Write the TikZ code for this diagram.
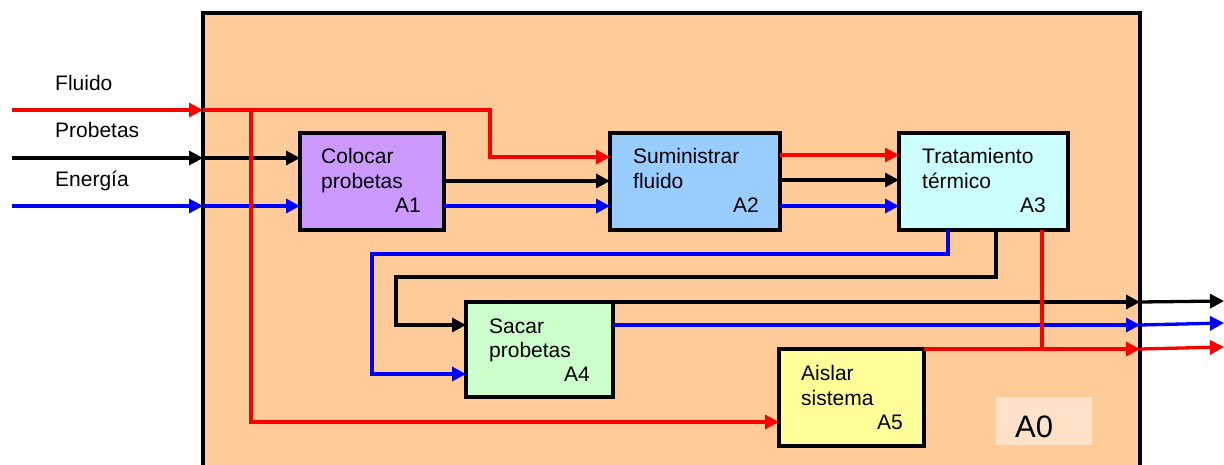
\documentclass[tikz,border=0pt]{standalone}
\usepackage{fontspec}
\setmainfont{Liberation Sans}
\usetikzlibrary{arrows.meta}
\definecolor{ctxfill}{HTML}{FFCC99}
\definecolor{tagfill}{HTML}{FFE1C8}
\definecolor{fillA}{HTML}{CC99FF}
\definecolor{fillB}{HTML}{99CCFF}
\definecolor{fillC}{HTML}{CCFFFF}
\definecolor{fillD}{HTML}{CCFFCC}
\definecolor{fillE}{HTML}{FFFF99}
\definecolor{flowred}{HTML}{FF0000}
\definecolor{flowblue}{HTML}{0000FF}
\tikzset{
  actbox/.style={draw=black, line width=3.3pt, rectangle, inner sep=0pt, outer sep=0pt, anchor=north west},
  flow/.style={line width=3.3pt, -{Triangle[length=14pt,width=14pt]}},
  wire/.style={line width=3.3pt},
  lbl/.style={font=\fontsize{21}{25}\selectfont, inner sep=0pt, anchor=base west},
  code/.style={font=\fontsize{21}{25}\selectfont, inner sep=0pt, anchor=base east},
}
\begin{document}
\begin{tikzpicture}[x=1pt,y=-1pt]
\useasboundingbox (0,0) rectangle (1224,465);

% context box A0
\node[actbox, fill=ctxfill, minimum width=937pt, minimum height=480pt] (a0) at (203,13) {};
\node[fill=tagfill, inner sep=0pt, minimum width=96pt, minimum height=48pt, anchor=north west] (tag) at (996,397) {};
\node[font=\fontsize{31}{36}\selectfont, inner sep=0pt, anchor=base west] (tagtxt) at (1015,437) {A0};

% activity boxes
\node[actbox, fill=fillA, minimum width=144pt, minimum height=97pt] (a1) at (300,133) {};
\node[actbox, fill=fillB, minimum width=170pt, minimum height=97pt] (a2) at (610,133) {};
\node[actbox, fill=fillC, minimum width=169pt, minimum height=97pt] (a3) at (899,133) {};
\node[actbox, fill=fillD, minimum width=147pt, minimum height=95pt] (a4) at (466,302) {};
\node[actbox, fill=fillE, minimum width=145pt, minimum height=97pt] (a5) at (779,349) {};

% box texts
\node[lbl] (t1a) at (321,164) {Colocar};
\node[lbl] (t1b) at (321,189) {probetas};
\node[code] (t1c) at (421,213) {A1};
\node[lbl] (t2a) at (633,164) {Suministrar};
\node[lbl] (t2b) at (633,189) {fluido};
\node[code] (t2c) at (759,213) {A2};
\node[lbl] (t3a) at (922,164) {Tratamiento};
\node[lbl] (t3b) at (922,189) {térmico};
\node[code] (t3c) at (1046,213) {A3};
\node[lbl] (t4a) at (489,333) {Sacar};
\node[lbl] (t4b) at (489,357) {probetas};
\node[code] (t4c) at (590,381) {A4};
\node[lbl] (t5a) at (801,380) {Aislar};
\node[lbl] (t5b) at (801,405) {sistema};
\node[code] (t5c) at (903,429) {A5};

% input labels
\node[lbl] (lf) at (55,91) {Fluido};
\node[lbl] (lp) at (55,138) {Probetas};
\node[lbl] (le) at (55,187) {Energía};

% input ends and border points
\coordinate (inF) at (12,110);
\coordinate (inP) at (12,158);
\coordinate (inE) at (12,206);
\coordinate (bF) at (203,110);
\coordinate (bP) at (203,158);
\coordinate (bE) at (203,206);

% output border points and ends
\coordinate (oK) at (1140,302);
\coordinate (oB) at (1140,325);
\coordinate (oR) at (1140,349);
\coordinate (xK) at (1224,301);
\coordinate (xB) at (1224,323);
\coordinate (xR) at (1224,347);

% black flows
\draw[flow] (inP) -- (bP);
\draw[flow] (bP) -- (a1.west |- bP);
\draw[flow] (a1.east |- 0,181) -- (a2.west |- 0,181);
\draw[flow] (a2.east |- 0,180) -- (a3.west |- 0,180);
\draw[flow] (a3.south -| 996,0) -- (996,277) -- (396,277) -- (396,325) -- (a4.west |- 0,325);
\draw[flow] (a4.north east) -- (oK);
\draw[flow] (oK) -- (xK);

% blue flows
\draw[flow, flowblue] (inE) -- (bE);
\draw[flow, flowblue] (bE) -- (a1.west |- bE);
\draw[flow, flowblue] (a1.east |- 0,206) -- (a2.west |- 0,206);
\draw[flow, flowblue] (a2.east |- 0,206) -- (a3.west |- 0,206);
\draw[flow, flowblue] (a3.south -| 948,0) -- (948,254) -- (372,254) -- (372,374) -- (a4.west |- 0,374);
\draw[flow, flowblue] (a4.east |- 0,325) -- (oB);
\draw[flow, flowblue] (oB) -- (xB);

% red flows
\draw[flow, flowred] (inF) -- (bF);
\draw[flow, flowred] (bF) -- (490,110) -- (490,157) -- (a2.west |- 0,157);
\draw[flow, flowred] (251,110) -- (251,422) -- (a5.west |- 0,422);
\draw[flow, flowred] (a2.east |- 0,155) -- (a3.west |- 0,155);
\draw[wire, flowred] (a3.south -| 1042,0) -- (1042,349);
\draw[flow, flowred] (a5.north east) -- (oR);
\draw[flow, flowred] (oR) -- (xR);
\end{tikzpicture}
\end{document}
